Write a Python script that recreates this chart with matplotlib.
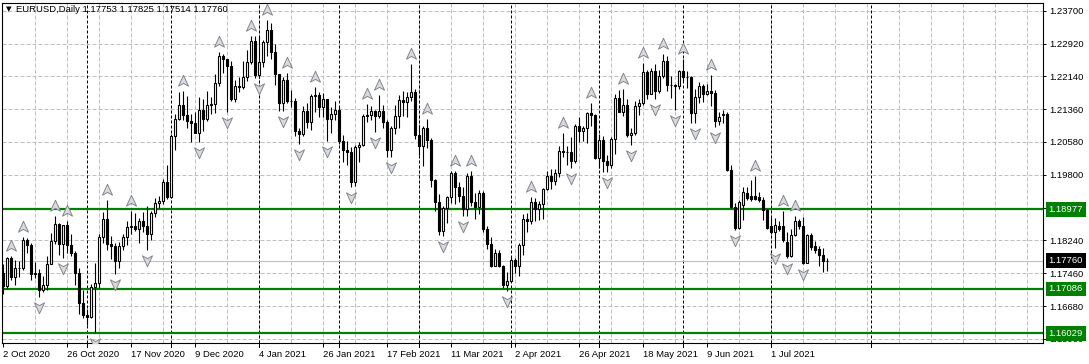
import numpy as np
import pandas as pd
import matplotlib
matplotlib.use("Agg")
import matplotlib.pyplot as plt
from matplotlib import font_manager as fm
from matplotlib.path import Path
from matplotlib.transforms import ScaledTranslation, blended_transform_factory

# ---------------- data ----------------
symbol_title = "EURUSD,Daily"
first_date = "2020-10-02"
holidays = ["2020-12-25", "2021-01-01"]

opens = [
1.1746, 1.1715, 1.1782, 1.1736, 1.1759, 1.1758, 1.1825, 1.1814, 1.1743, 1.1746,
1.1706, 1.1718, 1.1769, 1.1822, 1.1862, 1.1815, 1.1860, 1.1812, 1.1794, 1.1746,
1.1675, 1.1646, 1.1642, 1.1714, 1.1722, 1.1832, 1.1875, 1.1815, 1.1811, 1.1774,
1.1810, 1.1832, 1.1855, 1.1858, 1.1850, 1.1869, 1.1857, 1.1840, 1.1889, 1.1914,
1.1917, 1.1962, 1.1927, 1.2071, 1.2113, 1.2146, 1.2121, 1.2107, 1.2103, 1.2080,
1.2134, 1.2112, 1.2145, 1.2149, 1.2198, 1.2262, 1.2255, 1.2238, 1.2160, 1.2192,
1.2188, 1.2213, 1.2249, 1.2298, 1.2216, 1.2249, 1.2296, 1.2323, 1.2271, 1.2220,
1.2150, 1.2206, 1.2155, 1.2156, 1.2083, 1.2077, 1.2131, 1.2106, 1.2167, 1.2170,
1.2140, 1.2159, 1.2113, 1.2124, 1.2135, 1.2061, 1.2040, 1.2035, 1.1963, 1.2046,
1.2051, 1.2119, 1.2121, 1.2132, 1.2119, 1.2132, 1.2106, 1.2038, 1.2092, 1.2120,
1.2157, 1.2152, 1.2165, 1.2177, 1.2075, 1.2048, 1.2090, 1.2063, 1.1967, 1.1915,
1.1847, 1.1901, 1.1927, 1.1985, 1.1951, 1.1930, 1.1899, 1.1976, 1.1915, 1.1904,
1.1937, 1.1852, 1.1816, 1.1764, 1.1795, 1.1763, 1.1719, 1.1728, 1.1778, 1.1763,
1.1814, 1.1874, 1.1870, 1.1915, 1.1899, 1.1911, 1.1946, 1.1978, 1.1964, 1.1983,
1.2037, 1.2034, 1.2033, 1.2012, 1.2097, 1.2083, 1.2092, 1.2126, 1.2121, 1.2020,
1.2062, 1.2013, 1.2004, 1.2066, 1.2163, 1.2130, 1.2147, 1.2075, 1.2080, 1.2144,
1.2150, 1.2224, 1.2173, 1.2226, 1.2180, 1.2214, 1.2250, 1.2193, 1.2193, 1.2192,
1.2226, 1.2212, 1.2212, 1.2127, 1.2166, 1.2190, 1.2172, 1.2179, 1.2174, 1.2107,
1.2121, 1.2125, 1.1991, 1.1904, 1.1853, 1.1908, 1.1936, 1.1930, 1.1930, 1.1928,
1.1920, 1.1896, 1.1857, 1.1845, 1.1858, 1.1858, 1.1821, 1.1786, 1.1837, 1.1869,
1.1858, 1.1770, 1.1837, 1.1811, 1.1803, 1.1789, 1.17753]

highs = [
1.1767, 1.1784, 1.1788, 1.1778, 1.1774, 1.1831, 1.1830, 1.1818, 1.1772, 1.1755,
1.1740, 1.1786, 1.1841, 1.1881, 1.1866, 1.1860, 1.1870, 1.1839, 1.1798, 1.1759,
1.1706, 1.1662, 1.1720, 1.1770, 1.1840, 1.1891, 1.1920, 1.1834, 1.1817, 1.1820,
1.1840, 1.1869, 1.1894, 1.1890, 1.1877, 1.1892, 1.1905, 1.1894, 1.1924, 1.1930,
1.1970, 1.2004, 1.2077, 1.2125, 1.2176, 1.2178, 1.2167, 1.2125, 1.2130, 1.2165,
1.2160, 1.2179, 1.2165, 1.2219, 1.2273, 1.2268, 1.2255, 1.2250, 1.2205, 1.2213,
1.2250, 1.2276, 1.2310, 1.2309, 1.2309, 1.2300, 1.2349, 1.2340, 1.2290, 1.2212,
1.2213, 1.2223, 1.2182, 1.2163, 1.2092, 1.2144, 1.2150, 1.2173, 1.2189, 1.2177,
1.2174, 1.2161, 1.2142, 1.2155, 1.2141, 1.2075, 1.2061, 1.2047, 1.2051, 1.2057,
1.2124, 1.2149, 1.2144, 1.2134, 1.2169, 1.2145, 1.2109, 1.2095, 1.2145, 1.2169,
1.2180, 1.2176, 1.2243, 1.2184, 1.2099, 1.2095, 1.2113, 1.2068, 1.1970, 1.1934,
1.1906, 1.1930, 1.1989, 1.1990, 1.1963, 1.1952, 1.1985, 1.1990, 1.1937, 1.1944,
1.1942, 1.1858, 1.1833, 1.1804, 1.1801, 1.1765, 1.1749, 1.1786, 1.1781, 1.1818,
1.1887, 1.1889, 1.1927, 1.1924, 1.1917, 1.1949, 1.1990, 1.1994, 1.1994, 1.2048,
1.2080, 1.2048, 1.2070, 1.2101, 1.2117, 1.2097, 1.2130, 1.2150, 1.2125, 1.2078,
1.2073, 1.2028, 1.2070, 1.2173, 1.2181, 1.2183, 1.2161, 1.2092, 1.2155, 1.2161,
1.2245, 1.2230, 1.2234, 1.2243, 1.2230, 1.2266, 1.2262, 1.2215, 1.2196, 1.2228,
1.2254, 1.2226, 1.2215, 1.2185, 1.2200, 1.2195, 1.2196, 1.2218, 1.2181, 1.2130,
1.2134, 1.2130, 1.2003, 1.1912, 1.1921, 1.1952, 1.1950, 1.1968, 1.1976, 1.1938,
1.1928, 1.1898, 1.1880, 1.1877, 1.1870, 1.1895, 1.1845, 1.1850, 1.1881, 1.1876,
1.1880, 1.1839, 1.1841, 1.1823, 1.1811, 1.1806, 1.17825]

lows = [
1.1696, 1.1708, 1.1730, 1.1717, 1.1738, 1.1753, 1.1795, 1.1730, 1.1734, 1.1689,
1.1702, 1.1705, 1.1768, 1.1815, 1.1790, 1.1782, 1.1795, 1.1786, 1.1718, 1.1650,
1.1640, 1.1622, 1.1640, 1.1603, 1.1711, 1.1817, 1.1800, 1.1780, 1.1745, 1.1758,
1.1800, 1.1812, 1.1840, 1.1846, 1.1818, 1.1845, 1.1800, 1.1826, 1.1880, 1.1900,
1.1910, 1.1923, 1.1925, 1.2039, 1.2109, 1.2110, 1.2090, 1.2059, 1.2080, 1.2057,
1.2083, 1.2108, 1.2125, 1.2127, 1.2191, 1.2221, 1.2130, 1.2155, 1.2153, 1.2177,
1.2184, 1.2204, 1.2244, 1.2210, 1.2210, 1.2237, 1.2263, 1.2256, 1.2193, 1.2132,
1.2131, 1.2150, 1.2140, 1.2072, 1.2053, 1.2072, 1.2090, 1.2087, 1.2130, 1.2118,
1.2118, 1.2060, 1.2080, 1.2110, 1.2052, 1.2010, 1.2003, 1.1952, 1.1953, 1.2011,
1.2048, 1.2105, 1.2110, 1.2081, 1.2116, 1.2090, 1.2023, 1.2022, 1.2077, 1.2090,
1.2120, 1.2117, 1.2156, 1.2065, 1.2026, 1.2000, 1.2044, 1.1950, 1.1893, 1.1837,
1.1835, 1.1866, 1.1912, 1.1910, 1.1915, 1.1881, 1.1883, 1.1905, 1.1874, 1.1887,
1.1845, 1.1804, 1.1761, 1.1763, 1.1760, 1.1711, 1.1704, 1.1725, 1.1746, 1.1740,
1.1790, 1.1845, 1.1864, 1.1869, 1.1873, 1.1874, 1.1944, 1.1945, 1.1955, 1.1975,
1.2023, 1.2003, 1.1995, 1.2008, 1.2059, 1.2060, 1.2055, 1.2095, 1.2017, 1.1995,
1.1986, 1.1986, 1.1996, 1.2030, 1.2130, 1.2120, 1.2070, 1.2051, 1.2074, 1.2122,
1.2147, 1.2161, 1.2172, 1.2160, 1.2175, 1.2210, 1.2178, 1.2163, 1.2133, 1.2183,
1.2202, 1.2186, 1.2104, 1.2102, 1.2150, 1.2154, 1.2169, 1.2144, 1.2093, 1.2098,
1.2104, 1.1989, 1.1900, 1.1849, 1.1852, 1.1872, 1.1921, 1.1918, 1.1920, 1.1915,
1.1873, 1.1850, 1.1838, 1.1805, 1.1847, 1.1820, 1.1782, 1.1785, 1.1834, 1.1852,
1.1768, 1.1770, 1.1800, 1.1795, 1.1762, 1.1750, 1.17514]

closes = [
1.1715, 1.1782, 1.1736, 1.1759, 1.1758, 1.1825, 1.1814, 1.1743, 1.1746, 1.1706,
1.1718, 1.1769, 1.1822, 1.1862, 1.1815, 1.1860, 1.1812, 1.1794, 1.1746, 1.1675,
1.1646, 1.1642, 1.1714, 1.1722, 1.1832, 1.1875, 1.1815, 1.1811, 1.1774, 1.1810,
1.1832, 1.1855, 1.1858, 1.1850, 1.1869, 1.1857, 1.1840, 1.1889, 1.1914, 1.1917,
1.1962, 1.1927, 1.2071, 1.2113, 1.2146, 1.2121, 1.2107, 1.2103, 1.2080, 1.2134,
1.2112, 1.2145, 1.2149, 1.2198, 1.2262, 1.2255, 1.2238, 1.2160, 1.2192, 1.2188,
1.2213, 1.2249, 1.2298, 1.2216, 1.2249, 1.2296, 1.2323, 1.2271, 1.2220, 1.2150,
1.2206, 1.2155, 1.2156, 1.2083, 1.2077, 1.2131, 1.2106, 1.2167, 1.2170, 1.2140,
1.2159, 1.2113, 1.2124, 1.2135, 1.2061, 1.2040, 1.2035, 1.1963, 1.2046, 1.2051,
1.2119, 1.2121, 1.2132, 1.2119, 1.2132, 1.2106, 1.2038, 1.2092, 1.2120, 1.2157,
1.2152, 1.2165, 1.2177, 1.2075, 1.2048, 1.2090, 1.2063, 1.1967, 1.1915, 1.1847,
1.1901, 1.1927, 1.1985, 1.1951, 1.1930, 1.1899, 1.1976, 1.1915, 1.1904, 1.1937,
1.1852, 1.1816, 1.1764, 1.1795, 1.1763, 1.1719, 1.1728, 1.1778, 1.1763, 1.1814,
1.1874, 1.1870, 1.1915, 1.1899, 1.1911, 1.1946, 1.1978, 1.1964, 1.1983, 1.2037,
1.2034, 1.2033, 1.2012, 1.2097, 1.2083, 1.2092, 1.2126, 1.2121, 1.2020, 1.2062,
1.2013, 1.2004, 1.2066, 1.2163, 1.2130, 1.2147, 1.2075, 1.2080, 1.2144, 1.2150,
1.2224, 1.2173, 1.2226, 1.2180, 1.2214, 1.2250, 1.2193, 1.2193, 1.2192, 1.2226,
1.2212, 1.2212, 1.2127, 1.2166, 1.2190, 1.2172, 1.2179, 1.2174, 1.2107, 1.2118,
1.2124, 1.1991, 1.1904, 1.1853, 1.1916, 1.1940, 1.1924, 1.1923, 1.1922, 1.1920,
1.1896, 1.1853, 1.1845, 1.1861, 1.1850, 1.1825, 1.1786, 1.1837, 1.1869, 1.1857,
1.1770, 1.1837, 1.1809, 1.1801, 1.1789, 1.1774, 1.17760]

price_ticks = [1.23700, 1.22920, 1.22140, 1.21360, 1.20580, 1.19800,
               1.19020, 1.18240, 1.17460, 1.16680, 1.15900]
level_lines = [1.18977, 1.17086, 1.16029]
last_price = 1.17760
label_every = 16

# ---------------- fonts ----------------
def pick_font(cands):
    for f in cands:
        try:
            fm.findfont(fm.FontProperties(family=f), fallback_to_default=False)
            return f
        except Exception:
            pass
    return "DejaVu Sans"

FONT = pick_font(["Liberation Sans", "Arial"])
plt.rcParams["font.family"] = [FONT, "DejaVu Sans"]
FS = 6.8

# ---------------- figure geometry ----------------
W, H = 1089, 364
DPI = 100
ax_l, ax_r, ax_t, ax_b = 1.5, 1043, 3, 343
px_per_bar = 4.0
first_bar_px = 3.0
price_top_px, price_top = 10.7, 1.23700
px_per_unit = 4206.6

fig = plt.figure(figsize=(W / DPI, H / DPI), dpi=DPI)
ax = fig.add_axes([ax_l / W, (H - ax_b) / H, (ax_r - ax_l) / W, (ax_b - ax_t) / H])

xmin = -(first_bar_px - ax_l) / px_per_bar
xmax = (ax_r - first_bar_px) / px_per_bar
ymax = price_top + (price_top_px - ax_t) / px_per_unit
ymin = price_top - (ax_b - price_top_px) / px_per_unit
ax.set_xlim(xmin, xmax)
ax.set_ylim(ymin, ymax)

n = len(closes)
o = np.array(opens); h = np.array(highs); l = np.array(lows); c = np.array(closes)
idx = np.arange(n)

# trading calendar for the bars, calendar days for the empty future area
cal = pd.bdate_range(first_date, periods=n + 10)
cal = cal[~cal.isin(pd.to_datetime(holidays))][:n]
future = pd.date_range(cal[-1] + pd.Timedelta(days=1),
                       periods=int(np.ceil(xmax)) - n + 2, freq="D")
all_dates = cal.append(future)

# ---------------- grid ----------------
grid_kw = dict(color="#c0c0c0", lw=0.72, ls=(0, (4, 2)), zorder=0.5)
for p in price_ticks:
    ax.axhline(p, **grid_kw)
for b in range(8, int(xmax) + 1, 8):
    ax.axvline(b, **grid_kw)

# monthly period separators (data range + the next one)
mon = all_dates.month
sep_bars = [i for i in range(1, len(all_dates)) if mon[i] != mon[i - 1]]
data_seps = [b for b in sep_bars if b < n]
next_seps = [b for b in sep_bars if b >= n][:1]
xtr = blended_transform_factory(ax.transData, ax.transAxes)
for b in data_seps + next_seps:
    ax.axvline(b, color="black", lw=0.72, ls=(0, (3, 2)), zorder=0.8)
    ax.plot([b, b], [0, -4 / (ax_b - ax_t)], color="black", lw=0.72,
            transform=xtr, clip_on=False)

# horizontal levels
for lv in level_lines:
    ax.axhline(lv, color="#008000", lw=1.6, zorder=1.5)
ax.axhline(last_price, color="#c0c0c0", lw=0.8, zorder=1.2)

# ---------------- candles ----------------
ax.vlines(idx, l, h, color="black", lw=0.8, zorder=2)
bull = c >= o
body_w = 0.55
ax.bar(idx[bull], (c - o)[bull], bottom=o[bull], width=body_w,
       color="white", edgecolor="black", lw=0.8, zorder=3)
ax.bar(idx[~bull], (c - o)[~bull], bottom=o[~bull], width=body_w,
       color="black", edgecolor="black", lw=0.8, zorder=3)

# ---------------- fractals ----------------
up_idx, dn_idx = [], []
for i in range(2, n - 2):
    if h[i] >= h[i - 1] and h[i] >= h[i - 2] and h[i] > h[i + 1] and h[i] > h[i + 2]:
        up_idx.append(i)
    if l[i] <= l[i - 1] and l[i] <= l[i - 2] and l[i] < l[i + 1] and l[i] < l[i + 2]:
        dn_idx.append(i)

up_path = Path([(0, 1), (0.8, -0.75), (0, -0.3), (-0.8, -0.75), (0, 1)],
               [Path.MOVETO, Path.LINETO, Path.LINETO, Path.LINETO, Path.CLOSEPOLY])
dn_path = Path([(0, -1), (0.8, 0.75), (0, 0.3), (-0.8, 0.75), (0, -1)],
               [Path.MOVETO, Path.LINETO, Path.LINETO, Path.LINETO, Path.CLOSEPOLY])
off_up = ax.transData + ScaledTranslation(0, 10 / DPI, fig.dpi_scale_trans)
off_dn = ax.transData + ScaledTranslation(0, -10 / DPI, fig.dpi_scale_trans)
fr_kw = dict(ls="none", ms=9, mfc="#d9dade", mec="#85878f", mew=0.7, zorder=4)
ax.plot(up_idx, h[up_idx], marker=up_path, transform=off_up, clip_on=False, **fr_kw)
ax.plot(dn_idx, l[dn_idx], marker=dn_path, transform=off_dn, **fr_kw)

# ---------------- axes / ticks ----------------
for s in ax.spines.values():
    s.set_color("black")
    s.set_linewidth(0.8)

ax.yaxis.tick_right()
ax.set_yticks(price_ticks)
ax.set_yticklabels([f"{p:.5f}" for p in price_ticks])
ax.tick_params(axis="y", length=2.2, width=0.7, pad=2.6, labelsize=FS,
               colors="black", direction="out")

lab_bars = list(range(0, n, label_every))
ax.set_xticks(lab_bars)
ax.set_xticklabels([f"{cal[b].day} {cal[b].strftime('%b %Y')}" for b in lab_bars],
                   ha="left")
ax.tick_params(axis="x", length=3, width=0.7, pad=2.2, labelsize=FS,
               colors="black", direction="out")

# price boxes on the right scale
tr = blended_transform_factory(ax.transAxes, ax.transData)
xbox = 1 + 5.5 / (ax_r - ax_l)
for lv in level_lines:
    ax.text(xbox, lv, f"{lv:.5f}", transform=tr, ha="left", va="center",
            fontsize=FS, color="white", clip_on=False, zorder=6,
            bbox=dict(boxstyle="square,pad=0.3", fc="#008000", ec="none"))
ax.text(xbox, last_price, f"{last_price:.5f}", transform=tr, ha="left",
        va="center", fontsize=FS, color="white", clip_on=False, zorder=6,
        bbox=dict(boxstyle="square,pad=0.3", fc="black", ec="none"))

# title
fig.text(5.5 / W, 1 - 9 / H, "\u25bc", fontsize=5.2, va="center", ha="left",
         color="black", family="DejaVu Sans")
fig.text(16 / W, 1 - 9 / H,
         f"{symbol_title} {o[-1]:.5f} {h[-1]:.5f} {l[-1]:.5f} {c[-1]:.5f}",
         fontsize=FS, va="center", ha="left", color="black")

fig.savefig("out.png", dpi=DPI)
